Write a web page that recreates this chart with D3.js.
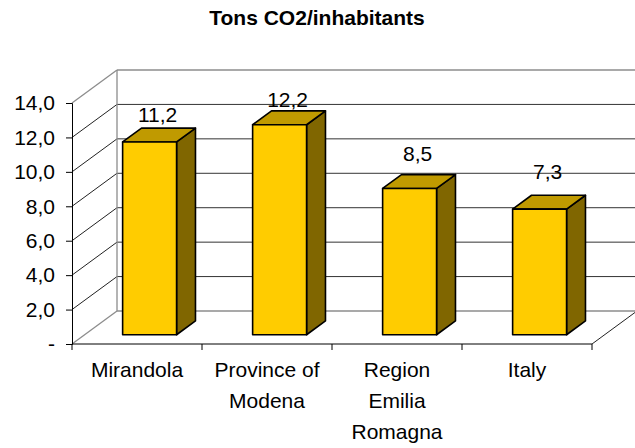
<!DOCTYPE html>
<html>
<head>
<meta charset="utf-8">
<script src="https://cdn.jsdelivr.net/npm/d3@7"></script>
<style>
  body { margin: 0; background: #fff; }
  text { font-family: Arial, "Liberation Sans", sans-serif; }
</style>
</head>
<body>
<script>
// data
const categories = ["Mirandola", "Province of Modena", "Region Emilia Romagna", "Italy"];
const categoryLines = [["Mirandola"], ["Province of", "Modena"], ["Region", "Emilia", "Romagna"], ["Italy"]];
const values = [11.2, 12.2, 8.5, 7.3];
const yTicks = [0, 2, 4, 6, 8, 10, 12, 14];

const canvWidth = 635, canvHeight = 448;

const svg = d3.select("body").append("svg")
    .attr("width", canvWidth)
    .attr("height", canvHeight);

// front plane of the 3d box
const plotLeft = 72, plotRight = 592, plotBottom = 344, plotTop = 103;
// depth vector (front -> back wall)
const depth = {dx: 45, dy: -33};
const barFront = 0.28, barBack = 0.70;

const xScale = d3.scaleBand()
    .domain(categories)
    .range([plotLeft, plotRight])
    .padding(0);

const yScale = d3.scaleLinear()
    .domain([0, 14])
    .range([plotBottom, plotTop]);

// labels drift a bit because of the perspective
const labelScale = d3.scaleLinear()
    .domain([0, 14])
    .range([285, 81]);

const barW = xScale.bandwidth() * 0.415;

// title
svg.append("text")
    .attr("x", 317)
    .attr("y", 25)
    .attr("font-size", "21px")
    .attr("font-weight", "bold")
    .style("text-anchor", "middle")
    .text("Tons CO2/inhabitants");

const grid = svg.append("g");

// back wall gridlines
grid.selectAll(".back")
    .data(yTicks.filter(d => d > 0 && d < 14))
    .enter().append("line")
    .attr("x1", plotLeft + depth.dx)
    .attr("x2", plotRight + depth.dx)
    .attr("y1", d => yScale(d) + depth.dy)
    .attr("y2", d => yScale(d) + depth.dy)
    .attr("stroke", "#333")
    .attr("stroke-width", 1);

// side wall gridlines
grid.selectAll(".side")
    .data(yTicks.filter(d => d > 0 && d < 14))
    .enter().append("line")
    .attr("x1", plotLeft)
    .attr("x2", plotLeft + depth.dx)
    .attr("y1", d => yScale(d))
    .attr("y2", d => yScale(d) + depth.dy)
    .attr("stroke", "#222")
    .attr("stroke-width", 1);

// walls and floor outline
const wallLines = [
    [plotLeft + depth.dx, yScale(14) + depth.dy, plotRight + depth.dx, yScale(14) + depth.dy],
    [plotLeft + depth.dx, yScale(14) + depth.dy, plotLeft + depth.dx, yScale(0) + depth.dy],
    [plotLeft + depth.dx, yScale(0) + depth.dy, plotRight + depth.dx, yScale(0) + depth.dy],
    [plotLeft, yScale(14), plotLeft + depth.dx, yScale(14) + depth.dy],
    [plotLeft, yScale(0), plotLeft + depth.dx, yScale(0) + depth.dy]
];
grid.selectAll(".wall")
    .data(wallLines)
    .enter().append("line")
    .attr("x1", d => d[0]).attr("y1", d => d[1])
    .attr("x2", d => d[2]).attr("y2", d => d[3])
    .attr("stroke", "#8c8c8c")
    .attr("stroke-width", 1.3);

// right floor edge
grid.append("line")
    .attr("x1", plotRight).attr("y1", yScale(0))
    .attr("x2", plotRight + depth.dx).attr("y2", yScale(0) + depth.dy)
    .attr("stroke", "#222");

// y axis
const yAxis = d3.axisLeft(yScale)
    .tickValues(yTicks)
    .tickSize(6)
    .tickPadding(11)
    .tickFormat(d => d === 0 ? "-" : d3.format(".1f")(d).replace(".", ","));

const yG = svg.append("g")
    .attr("transform", "translate(" + plotLeft + ",0)")
    .call(yAxis);
yG.select(".domain").attr("stroke", "#000");
yG.selectAll(".tick line").attr("stroke", "#000");
yG.selectAll("text")
    .attr("font-size", "21px")
    .attr("font-family", "Arial, 'Liberation Sans', sans-serif")
    .attr("fill", "#000");

// x axis line and ticks
const xG = svg.append("g");
xG.append("line")
    .attr("x1", plotLeft).attr("x2", plotRight)
    .attr("y1", plotBottom).attr("y2", plotBottom)
    .attr("stroke", "#000");
xG.selectAll(".xtick")
    .data(categories.concat(["end"]))
    .enter().append("line")
    .attr("x1", (d, i) => i < categories.length ? xScale(d) : plotRight)
    .attr("x2", (d, i) => i < categories.length ? xScale(d) : plotRight)
    .attr("y1", plotBottom)
    .attr("y2", plotBottom + 6)
    .attr("stroke", "#000");

// category labels
xG.selectAll(".xlabel")
    .data(categories)
    .enter().append("text")
    .attr("x", d => xScale(d) + xScale.bandwidth() / 2)
    .attr("y", 377)
    .attr("font-size", "21px")
    .style("text-anchor", "middle")
    .each(function(d, i) {
        d3.select(this).selectAll("tspan")
            .data(categoryLines[i])
            .enter().append("tspan")
            .attr("x", xScale(d) + xScale.bandwidth() / 2)
            .attr("dy", (t, j) => j === 0 ? 0 : 31)
            .text(t => t);
    });

// bars
const bars = svg.append("g");
categories.forEach(function(c, i) {
    const v = values[i];
    const x0 = xScale(c) + (xScale.bandwidth() - barW) / 2 + depth.dx * barFront;
    const x1 = x0 + barW;
    const yb = yScale(0) + depth.dy * barFront;
    const yt = yScale(v) + depth.dy * barFront;
    const ddx = depth.dx * (barBack - barFront);
    const ddy = depth.dy * (barBack - barFront);

    const g = bars.append("g")
        .attr("stroke", "#000")
        .attr("stroke-width", 1.6)
        .attr("stroke-linejoin", "round");

    // side
    g.append("path")
        .attr("d", `M${x1},${yt} L${x1 + ddx},${yt + ddy} L${x1 + ddx},${yb + ddy} L${x1},${yb} Z`)
        .attr("fill", "#806600");
    // top
    g.append("path")
        .attr("d", `M${x0},${yt} L${x0 + ddx},${yt + ddy} L${x1 + ddx},${yt + ddy} L${x1},${yt} Z`)
        .attr("fill", "#c09a00");
    // front
    g.append("rect")
        .attr("x", x0).attr("y", yt)
        .attr("width", barW).attr("height", yb - yt)
        .attr("fill", "#ffcc00");

    // value label
    bars.append("text")
        .attr("x", x0 + barW / 2 + 8)
        .attr("y", labelScale(v))
        .attr("font-size", "21px")
        .style("text-anchor", "middle")
        .text(d3.format(".1f")(v).replace(".", ","));
});
</script>
</body>
</html>
